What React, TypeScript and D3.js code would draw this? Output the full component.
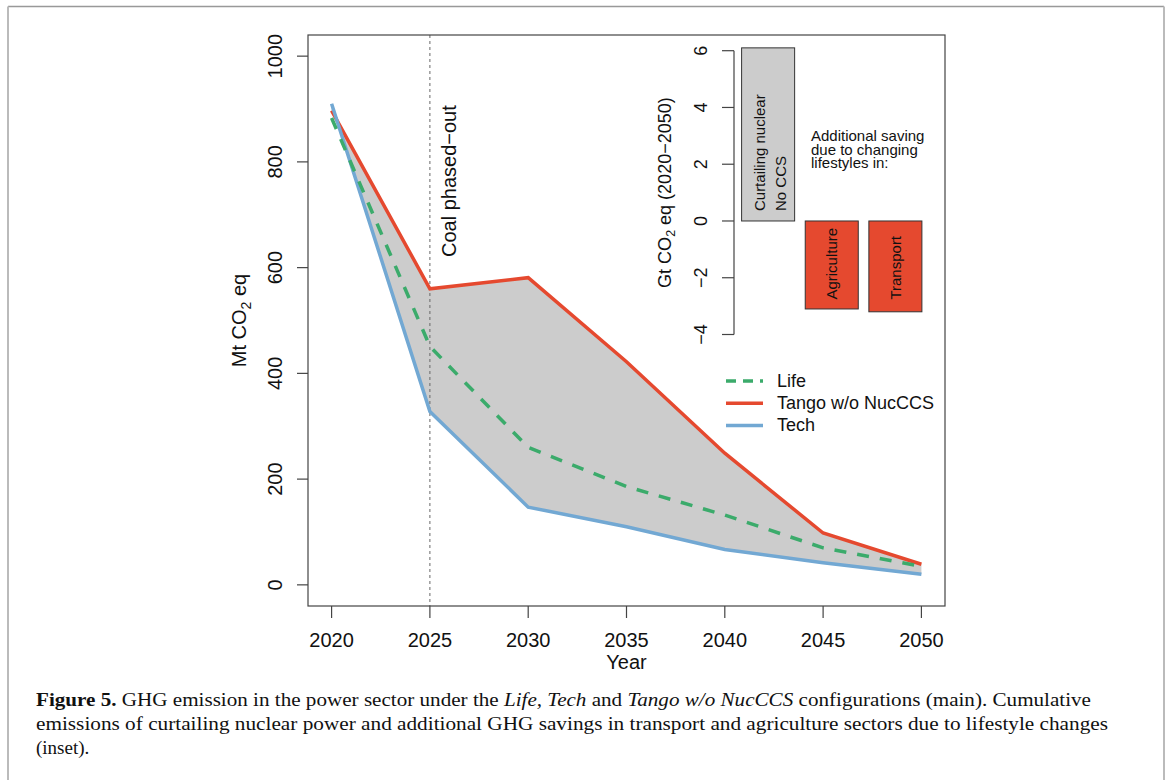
import * as d3 from 'd3';

// main chart data (Mt CO2 eq)
const years = [2020, 2025, 2030, 2035, 2040, 2045, 2050];
const life = [883, 451, 260, 186, 132, 70, 35];
const tango = [897, 560, 581, 422, 249, 98, 39];
const tech = [910, 328, 147, 110, 67, 42, 20];
const yTicks = [0, 200, 400, 600, 800, 1000];
const coalYear = 2025;

// inset data (Gt CO2 eq, 2020-2050)
const insetCats = ['nuclear', 'agriculture', 'transport'];
const insetLabels = [['Curtailing nuclear', 'No CCS'], ['Agriculture'], ['Transport']];
const insetValues = [6.1, -3.1, -3.2];
const insetTicks = [-4, -2, 0, 2, 4, 6];

const RED = '#E5492F';
const BLUE = '#72A8D3';
const GREEN = '#3BAB6B';
const FILL = '#CCCCCC';
const SANS = '"Liberation Sans", Arial, Helvetica, sans-serif';
const SERIF = '"Liberation Serif", "Times New Roman", serif';

const legendItems = [
  { label: 'Life', color: GREEN, dash: '10,7' },
  { label: 'Tango w/o NucCCS', color: RED, dash: null },
  { label: 'Tech', color: BLUE, dash: null },
];

const App = () => {
  const box = { left: 308, right: 945, top: 35, bottom: 606 };

  const x = d3.scaleLinear().domain([2018.8, 2051.2]).range([box.left, box.right]);
  const y = d3.scaleLinear().domain([-40, 1040]).range([box.bottom, box.top]);

  const area = d3.area<number>()
    .x((_, i) => x(years[i]))
    .y0((_, i) => y(tech[i]))
    .y1(d => y(d));

  const line = d3.line<number>()
    .x((_, i) => x(years[i]))
    .y(d => y(d));

  // inset scales
  const ix = d3.scaleBand<string>().domain(insetCats).range([731, 932.5])
    .paddingInner(1 / 6).paddingOuter(1 / 6);
  const iy = d3.scaleLinear().domain([-4, 6]).range([334.5, 50.7]);
  const iAxisX = 734;

  return (
    <svg width={1171} height={780} style={{ position: 'absolute', left: 0, top: 0, background: '#fff' }}>
      {/* figure border */}
      <line x1={8} y1={6.5} x2={1164} y2={6.5} stroke="#999" strokeWidth={1.5} />
      <line x1={8} y1={6.5} x2={8} y2={780} stroke="#bbb" strokeWidth={2} />
      <line x1={1164} y1={6.5} x2={1164} y2={780} stroke="#bbb" strokeWidth={2} />

      {/* band between Tango and Tech */}
      <path d={area(tango) || ''} fill={FILL} stroke="none" />

      {/* coal phase-out marker */}
      <line x1={x(coalYear)} x2={x(coalYear)} y1={box.top} y2={box.bottom}
        stroke="#666" strokeWidth={1} strokeDasharray="3,3" />
      <text transform={`translate(${x(coalYear) + 26},257) rotate(-90)`}
        fontFamily={SANS} fontSize={20} fill="#111">Coal phased−out</text>

      {/* series */}
      <path d={line(tango) || ''} fill="none" stroke={RED} strokeWidth={3.5} />
      <path d={line(tech) || ''} fill="none" stroke={BLUE} strokeWidth={3.5} />
      <path d={line(life) || ''} fill="none" stroke={GREEN} strokeWidth={3.5} strokeDasharray="12,11" />

      {/* plot box */}
      <rect x={box.left} y={box.top} width={box.right - box.left} height={box.bottom - box.top}
        fill="none" stroke="#444" strokeWidth={1.2} />

      {/* y axis */}
      {yTicks.map(t => (
        <g key={t}>
          <line x1={box.left - 11} x2={box.left} y1={y(t)} y2={y(t)} stroke="#444" strokeWidth={1.2} />
          <text transform={`translate(282,${y(t)}) rotate(-90)`} textAnchor="middle"
            fontFamily={SANS} fontSize={20} fill="#111">{t}</text>
        </g>
      ))}
      <text transform={`translate(246,${(box.top + box.bottom) / 2}) rotate(-90)`} textAnchor="middle"
        fontFamily={SANS} fontSize={20} fill="#111">
        Mt CO<tspan fontSize={14} dy={5}>2</tspan><tspan dy={-5}> eq</tspan>
      </text>

      {/* x axis */}
      {years.map(t => (
        <g key={t}>
          <line x1={x(t)} x2={x(t)} y1={box.bottom} y2={box.bottom + 12} stroke="#444" strokeWidth={1.2} />
          <text x={x(t)} y={647} textAnchor="middle" fontFamily={SANS} fontSize={20} fill="#111">{t}</text>
        </g>
      ))}
      <text x={(box.left + box.right) / 2} y={669} textAnchor="middle" fontFamily={SANS} fontSize={20} fill="#111">Year</text>

      {/* legend */}
      {legendItems.map((it, i) => {
        const ly = 381 + i * 22.2;
        return (
          <g key={it.label}>
            <line x1={726} x2={763} y1={ly} y2={ly} stroke={it.color} strokeWidth={3.5}
              strokeDasharray={it.dash || undefined} />
            <text x={777} y={ly} dominantBaseline="central" fontFamily={SANS} fontSize={18} fill="#111">{it.label}</text>
          </g>
        );
      })}

      {/* inset */}
      <line x1={iAxisX} x2={iAxisX} y1={iy(6)} y2={iy(-4)} stroke="#444" strokeWidth={1.2} />
      {insetTicks.map(t => (
        <g key={t}>
          <line x1={iAxisX - 12} x2={iAxisX} y1={iy(t)} y2={iy(t)} stroke="#444" strokeWidth={1.2} />
          <text transform={`translate(707,${iy(t)}) rotate(-90)`} textAnchor="middle"
            fontFamily={SANS} fontSize={18} fill="#111">{t < 0 ? `−${-t}` : t}</text>
        </g>
      ))}
      <text transform={`translate(671,${(iy(6) + iy(-4)) / 2}) rotate(-90)`} textAnchor="middle"
        fontFamily={SANS} fontSize={18} fill="#111">
        Gt CO<tspan fontSize={12.5} dy={4}>2</tspan><tspan dy={-4}> eq (2020−2050)</tspan>
      </text>
      {insetCats.map((c, i) => {
        const v = insetValues[i];
        const bx = ix(c) || 0;
        const bw = ix.bandwidth();
        const lines = insetLabels[i];
        const anchorY = v > 0 ? iy(0.35) : iy(-2.77);
        return (
          <g key={c}>
            <rect x={bx} width={bw} y={iy(Math.max(0, v))} height={Math.abs(iy(v) - iy(0))}
              fill={v > 0 ? FILL : RED} stroke="#333" strokeWidth={1} />
            {lines.map((ln, j) => {
              const cx = bx + bw / 2 + (j - (lines.length - 1) / 2) * 21 + (lines.length > 1 ? 2 : 0);
              return (
                <text key={ln} transform={`translate(${cx},${anchorY}) rotate(-90)`}
                  dominantBaseline="central" fontFamily={SANS} fontSize={15} fill="#111">{ln}</text>
              );
            })}
          </g>
        );
      })}
      <text fontFamily={SANS} fontSize={15} fill="#111">
        <tspan x={811} y={141}>Additional saving</tspan>
        <tspan x={811} y={154.6}>due to changing</tspan>
        <tspan x={811} y={168.2}>lifestyles in:</tspan>
      </text>

      {/* caption */}
      <g fontFamily={SERIF} fontSize={19} fill="#111">
        <text x={36} y={706} textLength={1055} lengthAdjust="spacingAndGlyphs">
          <tspan fontWeight="bold">Figure 5.</tspan> GHG emission in the power sector under the <tspan fontStyle="italic">Life, Tech</tspan> and <tspan fontStyle="italic">Tango w/o NucCCS</tspan> configurations (main). Cumulative
        </text>
        <text x={36} y={730} textLength={1072} lengthAdjust="spacingAndGlyphs">
          emissions of curtailing nuclear power and additional GHG savings in transport and agriculture sectors due to lifestyle changes
        </text>
        <text x={36} y={753.5}>(inset).</text>
      </g>
    </svg>
  );
};

export default App;
